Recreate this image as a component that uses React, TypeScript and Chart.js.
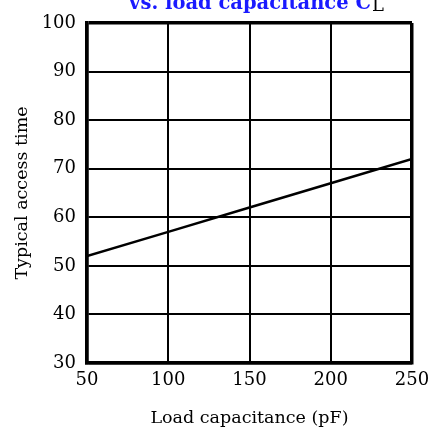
import React, { useEffect, useRef } from "react";
import { Chart, registerables } from "chart.js";

Chart.register(...registerables);

const loadCapacitance = [50, 100, 150, 200, 250];
const accessTime = [52, 57, 62, 67, 72];
const titleMain = "vs. load capacitance C";
const titleSub = "L";
const xTitle = "Load capacitance (pF)";
const yTitle = "Typical access time";

const FONT = "'DejaVu Serif', serif";

const titlePlugin = {
  id: "topTitle",
  afterDraw(chart: any) {
    const ctx = chart.ctx;
    ctx.save();
    ctx.font = `bold 19.5px ${FONT}`;
    const w1 = ctx.measureText(titleMain).width;
    ctx.font = `18px ${FONT}`;
    const w2 = ctx.measureText(titleSub).width;
    const cx = 256;
    const x0 = cx - (w1 + w2) / 2;
    const base = 29;
    ctx.textBaseline = "alphabetic";
    ctx.textAlign = "left";
    ctx.font = `bold 19.5px ${FONT}`;
    ctx.fillStyle = "#1a1aff";
    ctx.fillText(titleMain, x0, base);
    ctx.font = `18px ${FONT}`;
    ctx.fillStyle = "#000";
    ctx.fillText(titleSub, x0 + w1 + 1, base + 2);
    ctx.restore();
  },
};

export default function App() {
  const ref = useRef<HTMLCanvasElement | null>(null);
  useEffect(() => {
    if (!ref.current) return;
    const chart = new Chart(ref.current, {
      type: "line",
      data: {
        datasets: [
          {
            data: loadCapacitance.map((x, i) => ({ x, y: accessTime[i] })),
            borderColor: "#000",
            borderWidth: 2.5,
            pointRadius: 0,
            fill: false,
          },
        ],
      },
      options: {
        animation: false,
        responsive: false,
        devicePixelRatio: 1,
        layout: { padding: { left: 0, right: 21, top: 43, bottom: 0 } },
        plugins: { legend: { display: false }, tooltip: { enabled: false }, title: { display: false } },
        scales: {
          x: {
            type: "linear",
            min: 50,
            max: 250,
            ticks: { stepSize: 50, color: "#000", font: { family: FONT, size: 18 }, padding: 7, maxRotation: 0 },
            grid: {
              color: "#000",
              lineWidth: (c: any) => (c.index === 0 || c.index === 4 ? 3.5 : 2),
              drawTicks: false,
            },
            border: { color: "#000", width: 3.5 },
            title: { display: true, text: xTitle, color: "#000", font: { family: FONT, size: 17.5 }, padding: { top: 0, bottom: 4 } },
            afterFit: (s: any) => {
              s.height = 70;
              s.paddingRight = 0;
              s.paddingLeft = 0;
            },
          },
          y: {
            min: 30,
            max: 100,
            ticks: { stepSize: 10, color: "#000", font: { family: FONT, size: 18 }, padding: 11 },
            grid: {
              color: "#000",
              lineWidth: (c: any) => (c.index === 0 || c.index === 7 ? 3.5 : 2),
              drawTicks: false,
            },
            border: { color: "#000", width: 3.5 },
            title: { display: true, text: yTitle, color: "#000", font: { family: FONT, size: 17.5 }, padding: { top: 12, bottom: 0 } },
            afterFit: (s: any) => {
              s.width = 87;
              s.paddingTop = 0;
              s.paddingBottom = 0;
            },
          },
        },
      },
      plugins: [titlePlugin],
    });
    return () => chart.destroy();
  }, []);
  return (
    <div style={{ position: "absolute", left: 0, top: -20, width: 433, height: 453 }}>
      <canvas ref={ref} width={433} height={453} style={{ width: 433, height: 453, display: "block" }} />
    </div>
  );
}
